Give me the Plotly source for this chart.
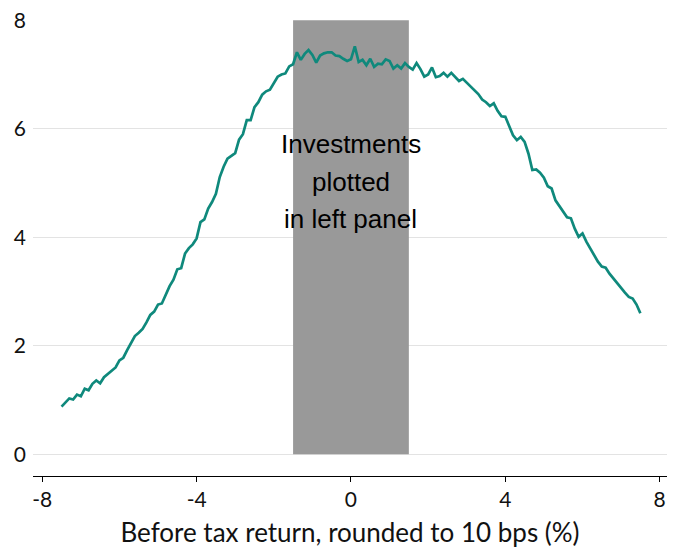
import numpy as np
import plotly.graph_objects as go

# Before-tax return bins (10 bp steps) and share of investments
returns = np.round(np.arange(-75, 76) / 10, 1)
share = [
    0.88, 0.95, 1.03, 1.01, 1.10, 1.07, 1.21, 1.18, 1.30, 1.36,
    1.31, 1.42, 1.48, 1.53, 1.60, 1.73, 1.78, 1.92, 2.04, 2.18,
    2.24, 2.31, 2.43, 2.57, 2.63, 2.76, 2.78, 2.95, 3.10, 3.22,
    3.41, 3.43, 3.70, 3.80, 3.87, 3.98, 4.28, 4.33, 4.53, 4.65,
    4.80, 5.11, 5.30, 5.45, 5.50, 5.55, 5.80, 5.90, 6.16, 6.16,
    6.40, 6.49, 6.63, 6.69, 6.72, 6.85, 6.96, 7.00, 7.02, 7.15,
    7.19, 7.41, 7.27, 7.38, 7.45, 7.36, 7.22, 7.35, 7.39, 7.41,
    7.41, 7.35, 7.34, 7.29, 7.25, 7.28, 7.52, 7.23, 7.27, 7.17,
    7.29, 7.14, 7.20, 7.19, 7.28, 7.25, 7.11, 7.17, 7.11, 7.21,
    7.14, 7.09, 7.21, 7.10, 6.96, 7.00, 7.13, 6.95, 6.97, 7.03,
    6.96, 7.03, 6.96, 6.88, 6.92, 6.85, 6.78, 6.71, 6.64, 6.54,
    6.49, 6.42, 6.47, 6.33, 6.23, 6.22, 6.06, 5.88, 5.79, 5.85,
    5.76, 5.54, 5.24, 5.25, 5.19, 5.10, 4.94, 4.90, 4.68, 4.57,
    4.48, 4.37, 4.35, 4.16, 4.01, 4.07, 3.92, 3.80, 3.66, 3.55,
    3.46, 3.44, 3.33, 3.24, 3.14, 3.07, 2.98, 2.90, 2.87, 2.76,
    2.60,
]

# Shaded band of returns shown in the other panel
band_lo, band_hi = -1.5, 1.5
band_top = 8
band_text = ["Investments", "plotted", "in left panel"]
band_text_y = [5.72, 5.02, 4.33]

x_ticks = [-8, -4, 0, 4, 8]
y_ticks = [0, 2, 4, 6, 8]

fig = go.Figure()
fig.add_trace(go.Scatter(
    x=returns, y=share, mode="lines",
    line=dict(color="#0f897c", width=2.7),
    hoverinfo="skip", showlegend=False,
))

fig.add_shape(
    type="rect", xref="x", yref="y",
    x0=band_lo, x1=band_hi, y0=0, y1=band_top,
    fillcolor="#999999", line=dict(width=0), layer="between",
)

for txt, ty in zip(band_text, band_text_y):
    fig.add_annotation(
        x=0, y=ty, text=txt, showarrow=False,
        font=dict(family="Liberation Sans, Arial, sans-serif", size=26, color="#000000"),
        xanchor="center", yanchor="middle",
    )

fig.update_layout(
    width=677, height=548,
    margin=dict(l=33, r=10, t=20, b=72, autoexpand=False),
    paper_bgcolor="white", plot_bgcolor="white",
    font=dict(family="Lato, sans-serif", size=21, color="#111111"),
)
fig.update_xaxes(
    range=[-8.24, 8.19], tickvals=x_ticks, ticktext=[str(v) for v in x_ticks],
    showgrid=False, zeroline=False, automargin=False,
    showline=True, linecolor="#000000", linewidth=1.2,
    ticks="outside", ticklen=5, tickcolor="#000000", tickwidth=1,
    title=dict(text="Before tax return, rounded to 10 bps (%)", font=dict(size=26), standoff=14),
)
fig.update_yaxes(
    range=[-0.4, 8.005], tickvals=y_ticks, ticktext=[str(v) for v in y_ticks],
    showgrid=True, gridcolor="#e3e3e3", gridwidth=1, automargin=False,
    zeroline=False, showline=False, ticks="", ticklabelstandoff=6,
)

fig.write_html("out.html")
